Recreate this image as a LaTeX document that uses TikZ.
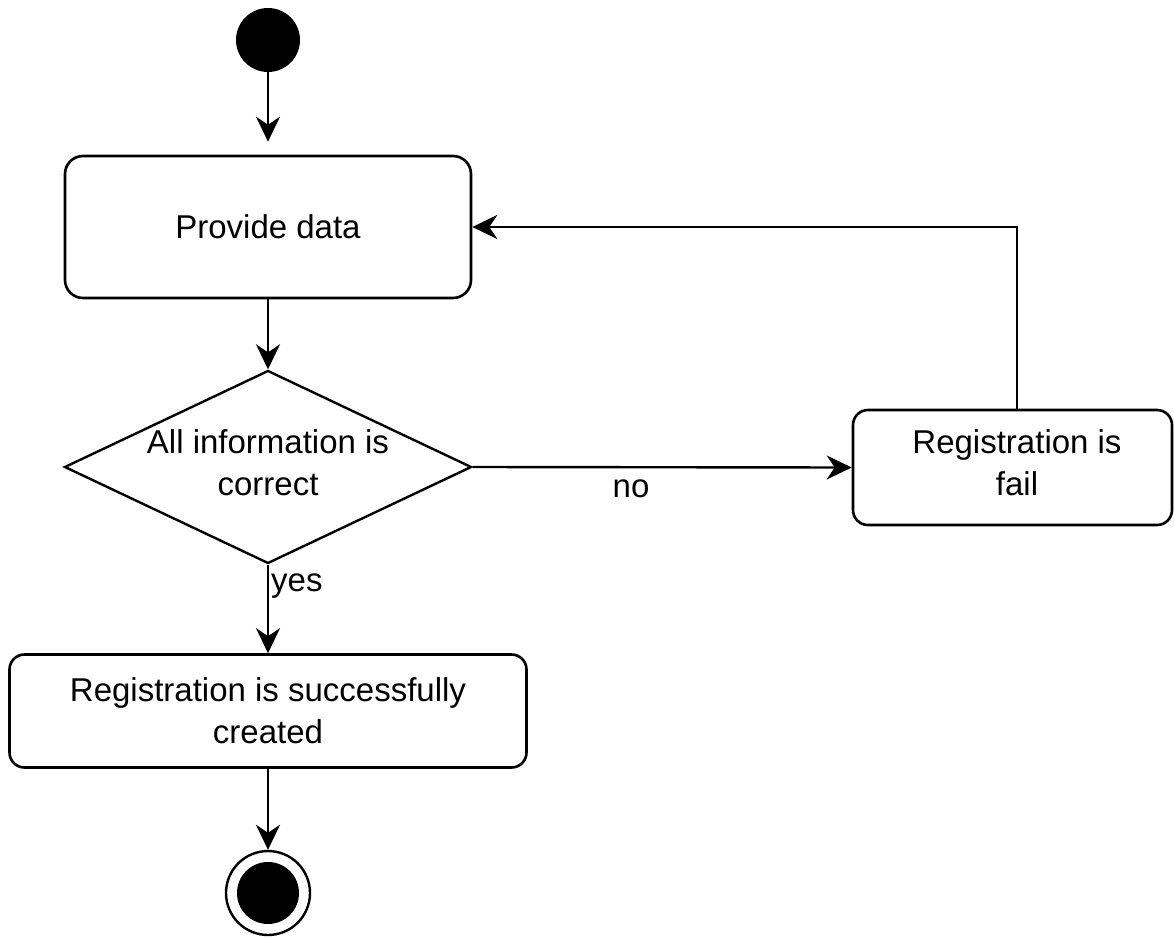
\documentclass[tikz,border=0pt]{standalone}
\usepackage{fontspec}
\setmainfont{Liberation Sans}
\usetikzlibrary{shapes.geometric,arrows.meta}
\begin{document}
\begin{tikzpicture}[x=1pt,y=-1pt,
  txt/.style={font=\fontsize{33}{42}\selectfont,inner sep=0pt,align=center},
  action/.style={txt,draw,line width=2.6pt,rounded corners=18pt},
  flow/.style={line width=2.4pt,-{Stealth[length=25pt,width=24pt,inset=8pt]}},
  ]
\useasboundingbox (0,0) rectangle (1174,936);

% initial state
\node[circle,fill=black,minimum size=64pt,inner sep=0pt] (start) at (268,40) {};

% actions
\node[action,minimum width=406pt,minimum height=142pt] (provide) at (268,227) {Provide data};
\node[draw,diamond,line width=2.4pt,minimum width=407pt,minimum height=193pt,inner sep=0pt] (dec) at (268,467) {};
\node[txt] (dectext) at (268,463) {All information is\\correct};
\node[action,rounded corners=15pt,minimum width=319pt,minimum height=115pt] (fail) at (1012.5,467.5) {};
\node[txt] (failtext) at (1017,463) {Registration is\\fail};
\node[action,rounded corners=15pt,minimum width=517pt,minimum height=113pt] (success) at (268,711) {Registration is successfully\\created};

% final state
\node[circle,draw,line width=2.4pt,minimum size=84pt,inner sep=0pt] (end) at (268,893) {};
\fill (end.center) circle (31pt);

% guards
\node[txt] (no) at (631,489) {no};
\node[txt,anchor=west] (yes) at (271,586) {yes};

% control flow
\draw[flow,shorten >=13pt] (start) -- (provide);
\draw[flow] (provide) -- (dec);
\draw[flow] (dec.east) -- (fail.west);
\draw[flow] (dec.south) -- (success.north);
\draw[flow] (success) -- (end);
\draw[flow] ([xshift=4.5pt]fail.north) |- (provide.east);
\end{tikzpicture}
\end{document}
